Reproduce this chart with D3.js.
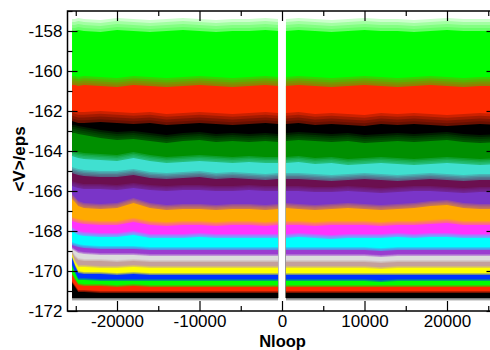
<!DOCTYPE html>
<html>
<head>
<meta charset="utf-8">
<script src="https://cdn.jsdelivr.net/npm/d3@7"></script>
<style>
  html, body { margin: 0; padding: 0; background: #fff; }
  svg { display: block; }
  text { font-family: "Liberation Sans", Arial, Helvetica, sans-serif; fill: #000; }
</style>
</head>
<body>
<svg id="chart" width="490" height="350"></svg>
<script>
// ---------- data ----------
// Sample positions in Nloop (left run, then right run; gap around 0)
const loops = [-25450, -25100, -24700, -24000, -22000, -20000, -18000, -16000, -14000, -12000, -10000, -8000, -6000, -4000, -2000, -480,
               480, 2000, 4000, 6000, 8000, 10000, 12000, 14000, 16000, 18000, 20000, 22000, 24000, 26000];

// Upper edge (solid part) of each noisy trace, <V>/eps
const greenHi   = [-158.0,-158.0,-157.95,-158.0,-158.05,-157.95,-158.0,-158.05,-158.0,-157.95,-158.0,-158.05,-158.0,-158.0,-157.95,-158.0,
                   -158.0,-157.95,-158.0,-158.05,-158.0,-157.95,-158.0,-158.0,-158.05,-158.0,-157.95,-158.0,-158.0,-158.0];
const redHi     = [-160.7,-160.7,-160.75,-160.7,-160.75,-160.8,-160.7,-160.75,-160.8,-160.75,-160.7,-160.75,-160.8,-160.75,-160.7,-160.75,
                   -160.75,-160.7,-160.75,-160.8,-160.75,-160.7,-160.75,-160.8,-160.75,-160.7,-160.75,-160.8,-160.75,-160.75];
const blackHi   = [-162.5,-162.55,-162.6,-162.6,-162.55,-162.6,-162.65,-162.6,-162.7,-162.65,-162.6,-162.65,-162.7,-162.65,-162.6,-162.65,
                   -162.65,-162.6,-162.7,-162.65,-162.7,-162.75,-162.65,-162.7,-162.65,-162.7,-162.75,-162.7,-162.65,-162.7];
const green4    = [-163.1,-163.1,-163.15,-163.2,-163.35,-163.45,-163.4,-163.5,-163.6,-163.5,-163.45,-163.55,-163.5,-163.55,-163.5,-163.55,
                   -163.5,-163.45,-163.5,-163.55,-163.5,-163.6,-163.55,-163.5,-163.55,-163.5,-163.45,-163.55,-163.6,-163.55];
const turquoise = [-164.25,-164.3,-164.35,-164.4,-164.45,-164.5,-164.35,-164.5,-164.6,-164.55,-164.5,-164.55,-164.6,-164.55,-164.6,-164.6,
                   -164.6,-164.55,-164.65,-164.6,-164.7,-164.65,-164.6,-164.65,-164.7,-164.65,-164.6,-164.65,-164.7,-164.65];
const maroon    = [-165.1,-165.15,-165.2,-165.25,-165.3,-165.3,-165.2,-165.35,-165.4,-165.35,-165.3,-165.4,-165.35,-165.4,-165.45,-165.4,
                   -165.4,-165.4,-165.45,-165.5,-165.45,-165.4,-165.45,-165.5,-165.45,-165.4,-165.45,-165.5,-165.45,-165.45];
const indigo    = [-165.75,-165.8,-165.85,-165.9,-165.9,-165.95,-165.85,-165.95,-166.0,-165.95,-165.95,-166.0,-166.0,-165.95,-166.0,-166.0,
                   -166.0,-166.0,-166.05,-166.05,-166.0,-166.05,-166.1,-166.05,-166.0,-166.0,-166.05,-166.1,-166.05,-166.05];
const orange    = [-166.4,-166.55,-166.75,-166.85,-166.9,-166.85,-166.6,-166.85,-166.95,-166.9,-166.9,-166.95,-166.9,-166.9,-166.95,-166.9,
                   -166.85,-166.9,-166.95,-166.9,-166.85,-166.9,-166.95,-166.9,-166.85,-166.75,-166.7,-166.85,-166.9,-166.9];
const magenta   = [-167.5,-167.55,-167.6,-167.65,-167.7,-167.7,-167.55,-167.7,-167.75,-167.7,-167.7,-167.75,-167.7,-167.7,-167.75,-167.7,
                   -167.7,-167.7,-167.75,-167.7,-167.7,-167.7,-167.75,-167.7,-167.7,-167.65,-167.6,-167.7,-167.7,-167.7];
const cyan      = [-168.0,-168.1,-168.2,-168.25,-168.3,-168.3,-168.2,-168.35,-168.35,-168.35,-168.3,-168.35,-168.35,-168.35,-168.35,-168.35,
                   -168.35,-168.3,-168.35,-168.4,-168.35,-168.35,-168.35,-168.3,-168.35,-168.3,-168.3,-168.35,-168.35,-168.35];
const violet    = [-168.7,-168.75,-168.8,-168.85,-168.9,-168.9,-168.9,-168.95,-168.95,-168.95,-168.95,-168.95,-168.95,-168.95,-168.95,-168.95,
                   -168.95,-168.95,-168.95,-168.95,-168.95,-168.95,-169.0,-168.95,-168.95,-168.95,-168.95,-168.95,-168.95,-168.95];
const grey      = [-168.9,-169.0,-169.1,-169.15,-169.2,-169.2,-169.2,-169.25,-169.25,-169.25,-169.25,-169.25,-169.25,-169.25,-169.25,-169.25,
                   -169.25,-169.25,-169.25,-169.25,-169.25,-169.25,-169.3,-169.25,-169.25,-169.25,-169.25,-169.25,-169.25,-169.25];
const brown     = [-169.05,-169.3,-169.45,-169.5,-169.5,-169.55,-169.5,-169.55,-169.55,-169.55,-169.55,-169.55,-169.55,-169.55,-169.55,-169.55,
                   -169.55,-169.55,-169.55,-169.55,-169.55,-169.55,-169.6,-169.55,-169.55,-169.55,-169.55,-169.55,-169.55,-169.55];
const yellow    = [-169.2,-169.55,-169.8,-169.8,-169.85,-169.85,-169.8,-169.85,-169.85,-169.85,-169.85,-169.85,-169.85,-169.85,-169.85,-169.85,
                   -169.85,-169.85,-169.85,-169.85,-169.85,-169.85,-169.9,-169.85,-169.85,-169.85,-169.85,-169.85,-169.85,-169.85];
const blue      = [-169.35,-169.75,-170.1,-170.15,-170.15,-170.2,-170.15,-170.2,-170.2,-170.2,-170.2,-170.2,-170.2,-170.2,-170.2,-170.2,
                   -170.2,-170.2,-170.2,-170.2,-170.2,-170.2,-170.2,-170.2,-170.2,-170.2,-170.2,-170.2,-170.2,-170.2];
const greenLo   = [-169.75,-170.1,-170.45,-170.45,-170.5,-170.5,-170.5,-170.5,-170.5,-170.5,-170.5,-170.5,-170.5,-170.5,-170.5,-170.5,
                   -170.5,-170.5,-170.5,-170.5,-170.5,-170.5,-170.55,-170.5,-170.5,-170.5,-170.5,-170.5,-170.5,-170.5];
const redLo     = [-170.2,-170.45,-170.7,-170.75,-170.75,-170.8,-170.75,-170.8,-170.8,-170.8,-170.8,-170.8,-170.8,-170.8,-170.8,-170.8,
                   -170.8,-170.8,-170.8,-170.8,-170.8,-170.8,-170.8,-170.8,-170.8,-170.8,-170.8,-170.8,-170.8,-170.8];
const blackLo   = [-170.6,-170.8,-171.05,-171.05,-171.1,-171.1,-171.1,-171.1,-171.1,-171.1,-171.1,-171.1,-171.1,-171.1,-171.1,-171.1,
                   -171.1,-171.1,-171.1,-171.1,-171.1,-171.1,-171.1,-171.1,-171.1,-171.1,-171.1,-171.1,-171.1,-171.1];
const blackLoBottom = -171.35;   // lower edge of the lowest trace

// Traces, top one first; noise amplitude above each trace's solid edge
const seriesNames = ["greenHi","redHi","blackHi","green4","turquoise","maroon","indigo","orange","magenta",
                     "cyan","violet","grey","brown","yellow","blue","greenLo","redLo","blackLo"];
const seriesTops  = [greenHi, redHi, blackHi, green4, turquoise, maroon, indigo, orange, magenta,
                     cyan, violet, grey, brown, yellow, blue, greenLo, redLo, blackLo];
const noiseSpread = [0.6, 0.45, 0.55, 0.4, 0.3, 0.3, 0.25, 0.25, 0.2, 0.2, 0.15, 0.1, 0.1, 0.1, 0.1, 0.1, 0.1, 0.1];

const xTicksMajor = [-20000, -10000, 0, 10000, 20000];
const xTicksMinor = [-25000, -15000, -5000, 5000, 15000, 25000];
const yTicksMajor = [-172, -170, -168, -166, -164, -162, -160, -158];
const yTicksMinor = [-171, -169, -167, -165, -163, -161, -159, -157];

// ---------- styles ----------
const palette = ["#00ff00","#ff2a00","#000000","#008f00","#40e0d0","#6b0f4f","#7a35c8","#ffaa00","#ff33ff",
                 "#00ffff","#9a3cd0","#dcdcdc","#c4a09a","#ffff00","#0033ff","#00ff00","#ff2a00","#000000"];
const fuzzLevels = [1.0, 0.75, 0.5, 0.25];

// ---------- layout ----------
const svg = d3.select("#chart");
const L = 67.5, R = 496.5, T = 11, B = 311;
const x = d3.scaleLinear().domain([-26000, 26000]).range([L, R]);
const y = d3.scaleLinear().domain([-172, -157]).range([B, T]);

svg.append("defs").append("clipPath").attr("id", "plotclip")
  .append("rect").attr("x", L).attr("y", T).attr("width", R - L).attr("height", B - T);

const plot = svg.append("g").attr("clip-path", "url(#plotclip)");

const idxLeft = d3.range(loops.length).filter(i => loops[i] < 0);
const idxRight = d3.range(loops.length).filter(i => loops[i] > 0);

function band(arr, offTop, bottom) {
  return d3.area()
    .x(i => x(loops[i]))
    .y0(() => y(bottom))
    .y1(i => y(arr[i] + offTop));
}

seriesTops.forEach((arr, k) => {
  const col = palette[k];
  const sp = noiseSpread[k];
  [idxLeft, idxRight].forEach(idx => {
    // noise zone above the solid edge, built up in soft layers
    fuzzLevels.forEach(f => {
      plot.append("path").attr("d", band(arr, sp * f, blackLoBottom)(idx))
        .attr("fill", col).attr("fill-opacity", 0.2);
    });
    // solid part
    plot.append("path").attr("d", band(arr, 0, blackLoBottom)(idx))
      .attr("fill", col);
  });
});
// downward noise of the lowest trace
[idxLeft, idxRight].forEach(idx => {
  [0.12, 0.06].forEach(d => {
    plot.append("path").attr("d", d3.area().x(i => x(loops[i]))
        .y0(() => y(blackLoBottom - d)).y1(() => y(blackLoBottom))(idx))
      .attr("fill", "#000").attr("fill-opacity", 0.3);
  });
});

// ---------- axes (ticks inward) ----------
function styleAxis(g) {
  g.select(".domain").remove();
  g.selectAll(".tick line").attr("stroke", "#000").attr("stroke-width", 1.2);
  g.selectAll("text").style("font-size", "17px").style("font-family", "'Liberation Sans', Arial, sans-serif");
}

svg.append("g").attr("transform", `translate(0,${B})`)
  .call(d3.axisBottom(x).tickValues(xTicksMajor).tickSize(-10).tickPadding(4).tickFormat(d => String(d)))
  .call(styleAxis);
svg.append("g").attr("transform", `translate(0,${B})`)
  .call(d3.axisBottom(x).tickValues(xTicksMinor).tickSize(-5).tickFormat(""))
  .call(styleAxis);
svg.append("g").attr("transform", `translate(0,${T})`)
  .call(d3.axisTop(x).tickValues(xTicksMajor).tickSize(-10).tickFormat(""))
  .call(styleAxis);
svg.append("g").attr("transform", `translate(0,${T})`)
  .call(d3.axisTop(x).tickValues(xTicksMinor).tickSize(-5).tickFormat(""))
  .call(styleAxis);

svg.append("g").attr("transform", `translate(${L},0)`)
  .call(d3.axisLeft(y).tickValues(yTicksMajor).tickSize(-10).tickPadding(5).tickFormat(d => String(d)))
  .call(styleAxis);
svg.append("g").attr("transform", `translate(${L},0)`)
  .call(d3.axisLeft(y).tickValues(yTicksMinor).tickSize(-5).tickFormat(""))
  .call(styleAxis);
svg.append("g").attr("transform", `translate(${R},0)`)
  .call(d3.axisRight(y).tickValues(yTicksMajor).tickSize(-10).tickFormat(""))
  .call(styleAxis);

// frame
svg.append("rect").attr("x", L).attr("y", T).attr("width", R - L).attr("height", B - T)
  .attr("fill", "none").attr("stroke", "#000").attr("stroke-width", 1.5);

// axis titles
svg.append("text").attr("x", 282.5).attr("y", 347)
  .attr("text-anchor", "middle").style("font-size", "16.5px").style("font-weight", "bold")
  .text("Nloop");
svg.append("text").attr("transform", `translate(25,${(T + B) / 2 - 2}) rotate(-90)`)
  .attr("text-anchor", "middle").style("font-size", "17px").style("font-weight", "bold")
  .text("<V>/eps");
</script>
</body>
</html>
